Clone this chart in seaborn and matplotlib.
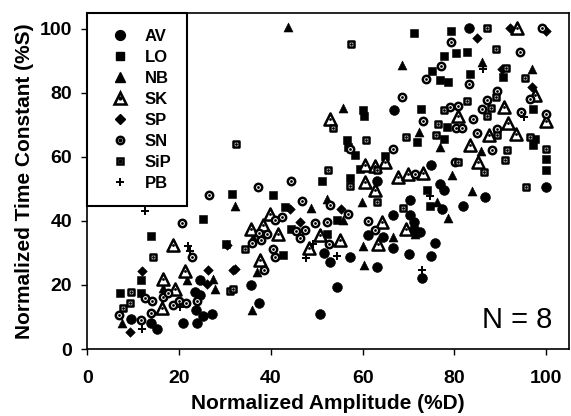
import pandas as pd
import seaborn as sns
import matplotlib.pyplot as plt
from matplotlib.lines import Line2D

sns.set_style("ticks")
plt.rcParams['font.family'] = ['Liberation Sans', 'DejaVu Sans']
plt.rcParams['font.weight'] = 'bold'
plt.rcParams['text.color'] = 'black'
plt.rcParams['axes.labelcolor'] = 'black'
plt.rcParams['xtick.color'] = 'black'
plt.rcParams['ytick.color'] = 'black'

# normalized amplitude (%D) and time constant (%S), one pair of lists per subject
av_amp = [9.6, 13.8, 15.1, 23.7, 25.3, 27.1, 20.9, 23.8, 24.5, 23.4, 24.5, 51.6, 52.9, 57.3, 54.4,
          50.7, 35.6, 37.4, 63.1, 63.1, 61.2, 66.8, 83.1, 74.9, 100.0, 86.7, 82.0, 76.9, 77.8, 77.3,
          70.3, 70.3, 66.7, 71.1, 71.1, 72.5, 64.5, 66.7, 75.8, 70.1, 74.9, 72.9]
av_tc = [9.3, 8.0, 6.2, 12.1, 10.3, 10.9, 8.2, 8.0, 21.5, 17.8, 16.8, 30.0, 27.2, 28.6, 19.4,
         10.9, 19.9, 14.4, 52.6, 25.6, 35.5, 74.5, 100.1, 57.3, 50.6, 47.5, 44.5, 51.6, 49.8, 43.8,
         46.4, 41.7, 41.7, 39.7, 37.6, 36.5, 35.0, 31.4, 33.1, 29.6, 29.0, 22.3]

lo_amp = [31.5, 25.3, 13.9, 30.2, 11.6, 7.2, 11.8, 51.1, 57.3, 40.4, 54.4, 43.1, 44.5, 52.2, 42.7,
          60.0, 60.3, 56.5, 56.9, 58.3, 59.4, 71.3, 79.3, 80.4, 82.7, 77.8, 90.7, 75.1, 76.9, 78.6,
          83.4, 72.7, 97.1, 78.3, 97.6, 97.2, 71.9, 77.8, 100.0, 100.0, 64.9, 74.0, 74.7]
lo_tc = [48.3, 40.6, 35.2, 32.7, 21.5, 17.4, 17.4, 52.3, 53.5, 48.0, 40.2, 44.3, 37.6, 36.0, 29.5,
         74.5, 72.9, 65.1, 63.0, 60.7, 56.3, 98.8, 99.2, 92.3, 92.8, 91.6, 84.8, 86.9, 84.0, 83.5,
         85.9, 75.0, 75.0, 69.3, 65.6, 63.6, 64.6, 65.6, 59.4, 55.8, 60.4, 49.8, 44.5]

nb_amp = [32.2, 21.8, 16.5, 27.3, 27.8, 7.5, 48.7, 52.2, 55.7, 36.2, 36.9, 35.9, 60.0, 60.3, 59.8,
          43.8, 55.8, 68.7, 86.0, 97.0, 72.4, 76.9, 85.8, 79.4, 83.9, 76.2, 78.6, 71.4, 66.6]
nb_tc = [44.8, 21.5, 19.2, 22.0, 18.6, 8.2, 44.0, 46.9, 40.2, 35.0, 24.1, 12.1, 32.1, 26.2, 45.9,
         100.4, 75.3, 88.8, 89.5, 87.4, 67.7, 63.0, 61.8, 54.2, 49.3, 45.9, 40.9, 36.0, 35.0]

sk_amp = [18.6, 21.3, 16.5, 19.1, 16.2, 39.8, 35.6, 38.2, 41.6, 50.7, 55.1, 48.4, 37.6, 60.5, 62.7,
          52.9, 60.5, 62.7, 93.6, 97.6, 90.8, 100.0, 80.7, 91.6, 93.5, 87.6, 83.4, 64.9, 85.2, 67.8,
          70.0, 73.2, 69.5, 64.2, 63.4]
sk_tc = [32.6, 24.4, 21.8, 18.6, 12.7, 42.3, 37.6, 38.6, 36.0, 35.5, 34.0, 31.4, 27.7, 52.1, 49.5,
         71.9, 57.3, 57.1, 100.3, 79.3, 75.5, 71.3, 72.6, 70.5, 67.2, 66.7, 63.6, 58.3, 58.3, 53.7,
         54.7, 54.9, 37.6, 39.7, 32.9]

sp_amp = [30.4, 12.0, 26.3, 31.8, 26.0, 9.3, 55.4, 44.2, 46.3, 32.2, 92.1, 100.0, 84.9, 90.3, 97.0]
sp_tc = [32.4, 24.4, 24.8, 24.6, 20.2, 5.4, 43.8, 43.8, 39.7, 25.1, 100.1, 99.4, 97.1, 87.4, 81.7]

sn_amp = [26.6, 20.7, 22.9, 6.9, 11.8, 13.8, 12.6, 14.0, 16.5, 17.6, 18.6, 20.0, 21.6, 23.8, 37.1,
          44.4, 46.9, 52.9, 56.9, 52.2, 40.9, 42.4, 49.6, 37.5, 39.1, 37.8, 35.9, 45.5, 47.4, 46.3,
          52.7, 38.5, 40.5, 40.9, 61.1, 62.7, 57.3, 99.1, 79.3, 94.3, 77.2, 73.8, 83.3, 96.5, 68.7,
          89.2, 87.1, 80.7, 79.1, 86.0, 94.5, 100.0, 84.1, 73.1, 80.4, 81.6, 89.4, 84.9, 88.2, 66.7,
          80.2, 71.4]
sn_tc = [48.0, 39.2, 28.6, 10.6, 9.0, 11.3, 15.8, 15.0, 16.3, 17.4, 13.7, 15.0, 14.4, 15.0, 50.6,
         52.4, 46.2, 44.9, 42.3, 39.7, 40.4, 41.2, 39.3, 36.2, 35.8, 34.0, 33.1, 36.9, 37.3, 34.7,
         32.7, 24.6, 31.1, 28.8, 40.0, 37.1, 62.6, 100.1, 95.7, 92.6, 88.3, 84.3, 82.8, 78.1, 78.6,
         80.7, 77.8, 76.0, 75.7, 74.8, 73.9, 73.4, 71.9, 71.1, 68.9, 68.9, 68.8, 67.4, 62.2, 62.5,
         58.3, 54.7]

sip_amp = [14.4, 31.0, 31.7, 9.6, 9.3, 7.8, 57.3, 34.4, 63.1, 57.5, 53.6, 32.5, 60.7, 52.5, 63.1,
           87.2, 89.1, 91.3, 95.3, 89.1, 82.7, 77.8, 88.0, 87.1, 76.5, 89.2, 96.4, 69.5, 76.0, 91.4,
           100.0, 80.9, 91.1, 86.5, 95.6, 68.9]
sip_tc = [28.8, 18.1, 18.7, 17.9, 14.4, 12.7, 50.8, 31.2, 45.9, 95.2, 69.1, 64.1, 65.1, 55.8, 55.8,
          100.1, 93.7, 87.7, 84.6, 78.6, 77.4, 74.7, 75.3, 72.6, 70.3, 66.7, 66.1, 66.1, 66.7, 62.0,
          62.5, 58.3, 58.9, 55.2, 50.6, 44.0]

pb_amp = [12.5, 22.0, 22.4, 12.0, 20.2, 49.1, 47.7, 54.4, 86.2, 95.2, 74.7, 73.0]
pb_tc = [43.1, 32.3, 30.6, 6.4, 13.2, 32.7, 28.3, 29.0, 87.5, 72.4, 47.7, 24.6]

subjects = ["AV", "LO", "NB", "SK", "SP", "SN", "SiP", "PB"]
amps = [av_amp, lo_amp, nb_amp, sk_amp, sp_amp, sn_amp, sip_amp, pb_amp]
tcs = [av_tc, lo_tc, nb_tc, sk_tc, sp_tc, sn_tc, sip_tc, pb_tc]

df = pd.concat([pd.DataFrame({"subject": s, "amp": a, "tc": t})
                for s, a, t in zip(subjects, amps, tcs)], ignore_index=True)

# marker, size (pt^2), hollow-with-dot?
style = {
    "AV": ("o", 50, False),
    "LO": ("s", 30, False),
    "NB": ("^", 42, False),
    "SK": ("^", 76, True),
    "SP": ("D", 24, False),
    "SN": ("o", 28, True),
    "SiP": ("s", 25, True),
    "PB": ("+", 30, False),
}
EDGE = 1.8

fig, ax = plt.subplots(figsize=(5.71, 4.16), dpi=100)
fig.subplots_adjust(left=0.153, right=0.9965, bottom=0.161, top=0.9695)

handles = []
for s in subjects:
    m, size, hollow = style[s]
    d = df[df.subject == s]
    if hollow:
        sns.scatterplot(data=d, x="amp", y="tc", marker=m, s=size, color="white",
                        edgecolor="black", linewidth=EDGE, ax=ax, zorder=3)
        sns.scatterplot(data=d, x="amp", y="tc", marker="o", s=4, color="black",
                        edgecolor="black", linewidth=0, ax=ax, zorder=3)
        handles.append((Line2D([], [], ls="", marker=m, ms=size ** 0.5, mfc="white",
                               mec="black", mew=EDGE),
                        Line2D([], [], ls="", marker="o", ms=2.0, color="black")))
    elif m == "+":
        sns.scatterplot(data=d, x="amp", y="tc", marker=m, s=size, color="black",
                        linewidth=1.4, ax=ax, zorder=3)
        handles.append(Line2D([], [], ls="", marker=m, ms=size ** 0.5, color="black", mew=1.4))
    else:
        sns.scatterplot(data=d, x="amp", y="tc", marker=m, s=size, color="black",
                        edgecolor="black", linewidth=0.4, ax=ax, zorder=3)
        handles.append(Line2D([], [], ls="", marker=m, ms=size ** 0.5, color="black"))

ax.set_xlim(0, 105)
ax.set_ylim(0, 105)
ax.set_xticks(range(0, 101, 20))
ax.set_yticks(range(0, 101, 20))
ax.tick_params(direction="out", length=4, width=1, labelsize=14, top=False, right=False)
ax.tick_params(axis="x", pad=11)
ax.tick_params(axis="y", pad=7)
for sp in ax.spines.values():
    sp.set_visible(True)
    sp.set_linewidth(1.2)
    sp.set_color("black")

ax.set_xlabel("Normalized Amplitude (%D)", fontsize=15, fontweight="bold", labelpad=5)
ax.set_ylabel("Normalized Time Constant (%S)", fontsize=15, fontweight="bold", labelpad=4)

leg = ax.legend(handles, subjects, loc="upper left", bbox_to_anchor=(0, 1), borderaxespad=0,
                fancybox=False, edgecolor="black", framealpha=1,
                prop={"weight": "bold", "size": 12}, handlelength=2.0, handletextpad=0.48,
                labelspacing=0.36, borderpad=0.95)
leg.get_frame().set_linewidth(1.5)

ax.text(0.965, 0.063, "N = 8", transform=ax.transAxes, ha="right", va="baseline",
        fontsize=21, fontweight="normal")

fig.savefig("out.png", dpi=100)
